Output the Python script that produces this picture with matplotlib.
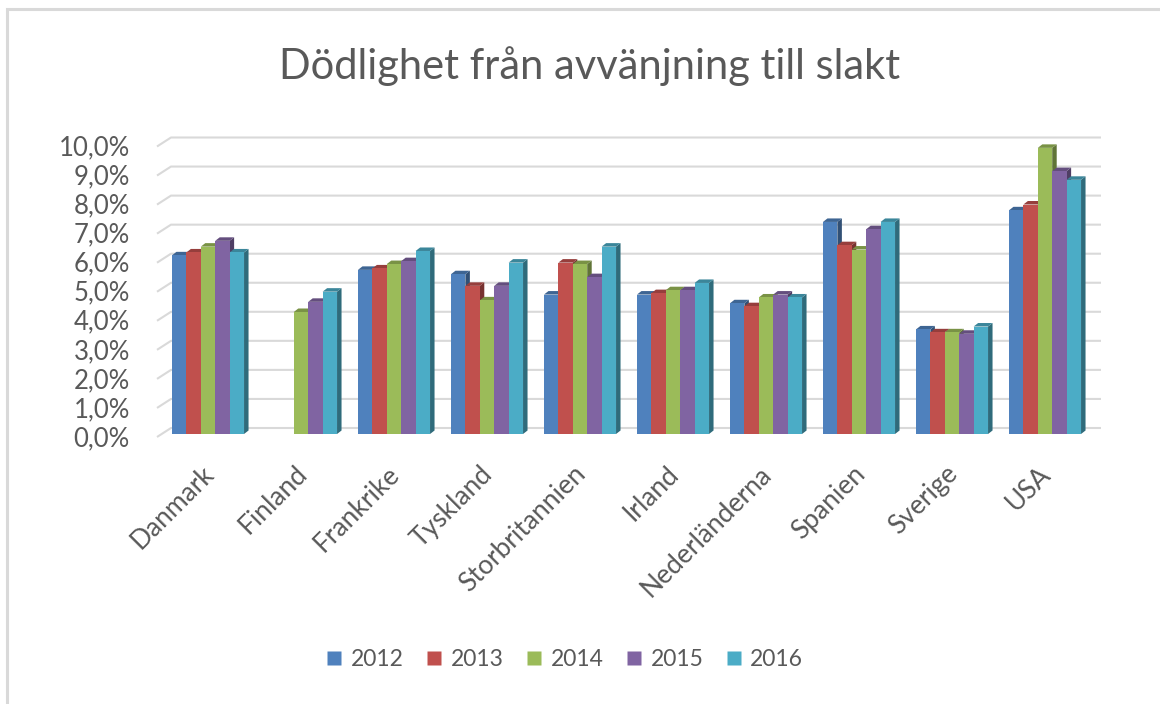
import numpy as np
import matplotlib.pyplot as plt
from matplotlib.patches import Polygon, Rectangle
from matplotlib.lines import Line2D

countries = ["Danmark", "Finland", "Frankrike", "Tyskland", "Storbritannien",
             "Irland", "Nederländerna", "Spanien", "Sverige", "USA"]
years = ["2012", "2013", "2014", "2015", "2016"]

v2012 = [6.15, np.nan, 5.65, 5.50, 4.80, 4.80, 4.50, 7.30, 3.60, 7.70]
v2013 = [6.25, np.nan, 5.70, 5.10, 5.90, 4.85, 4.40, 6.50, 3.50, 7.90]
v2014 = [6.45, 4.20, 5.85, 4.60, 5.85, 4.95, 4.70, 6.35, 3.50, 9.85]
v2015 = [6.65, 4.55, 5.95, 5.10, 5.40, 4.95, 4.80, 7.05, 3.45, 9.05]
v2016 = [6.25, 4.90, 6.30, 5.90, 6.45, 5.20, 4.70, 7.30, 3.70, 8.75]
series = [v2012, v2013, v2014, v2015, v2016]

colors = ["#4F81BD", "#C0504D", "#9BBB59", "#8064A2", "#4BACC6"]
yticks = np.arange(0, 11, 1)
text_col = "#595959"
grid_col = "#d9d9d9"

plt.rcParams['font.family'] = ['Lato', 'DejaVu Sans']

W, H = 1160, 704
fig = plt.figure(figsize=(W / 100, H / 100), dpi=100)

# pixel geometry of the plot
px_cat = 93.0      # px per category
px_pct = 29.05     # px per 1 %
x0_px, y0_px = 208, 434
left_px, right_px, top_px, bot_px = 150, 1110, 125, 445
ax = fig.add_axes([left_px / W, 1 - bot_px / H, (right_px - left_px) / W, (bot_px - top_px) / H])
ax.set_xlim((left_px - x0_px) / px_cat, (right_px - x0_px) / px_cat)
ax.set_ylim(-(bot_px - y0_px) / px_pct, (y0_px - top_px) / px_pct)
ax.axis("off")

ux = 1 / px_cat
uy = 1 / px_pct

# back wall gridlines with side-wall diagonal
for v in yticks:
    yb = v + 6 * uy
    yf = v - 3 * uy
    xf = (157 - x0_px) * ux
    xb = (171 - x0_px) * ux
    xe = (1101 - x0_px) * ux
    ax.plot([xf, xb, xe], [yf, yb, yb], color=grid_col, lw=1.5, zorder=1,
            solid_capstyle="butt")
    ax.text((130 - x0_px) * ux, v - 4.5 * uy, f"{v:.1f}%".replace(".", ","),
            ha="right", va="center", fontsize=18.5, color=text_col, clip_on=False)


def shade(c, f):
    r, g, b = [int(c[i:i + 2], 16) / 255 for i in (1, 3, 5)]
    return (r * f, g * f, b * f)


bw = 0.155
dx = 4.5 * ux
dy = 3.5 * uy
for i in range(len(countries)):
    start = i - bw * len(series) / 2
    for j, s in enumerate(series):
        v = s[i]
        if np.isnan(v):
            continue
        xl = start + j * bw
        xr = xl + bw
        c = colors[j]
        z = 2 + i * 0.01 + j * 0.001
        ax.add_patch(Polygon([(xr, 0), (xr + dx, dy), (xr + dx, v + dy), (xr, v)],
                             closed=True, fc=shade(c, 0.62), ec="none", zorder=z))
        ax.add_patch(Polygon([(xl, v), (xr, v), (xr + dx, v + dy), (xl + dx, v + dy)],
                             closed=True, fc=shade(c, 0.78), ec="none", zorder=z))
        ax.add_patch(Rectangle((xl, 0), bw, v, fc=c, ec="none", zorder=z))

for i, name in enumerate(countries):
    ax.text(i + 2 * ux, -36 * uy, name, rotation=45, ha="right", va="center",
            rotation_mode="anchor", fontsize=19, color=text_col, clip_on=False)

fig.text(590 / W, 1 - 66 / H, "Dödlighet från avvänjning till slakt",
         ha="center", va="center", fontsize=30, color=text_col)

handles = [Line2D([], [], marker="s", ls="none", ms=9.5, mfc=c, mec="none") for c in colors]
fig.legend(handles, years, loc="center", bbox_to_anchor=(565 / W, 1 - 660 / H),
           ncol=5, frameon=False, fontsize=16.5, labelcolor=text_col,
           handlelength=0.65, handletextpad=0.4, columnspacing=1.0)

fig.add_artist(Rectangle((7 / W, -0.2), 1.5, 1.2 - 9 / H + 0.0, transform=fig.transFigure,
                         fill=False, ec=grid_col, lw=2.2))

fig.savefig("out.png", dpi=100)
